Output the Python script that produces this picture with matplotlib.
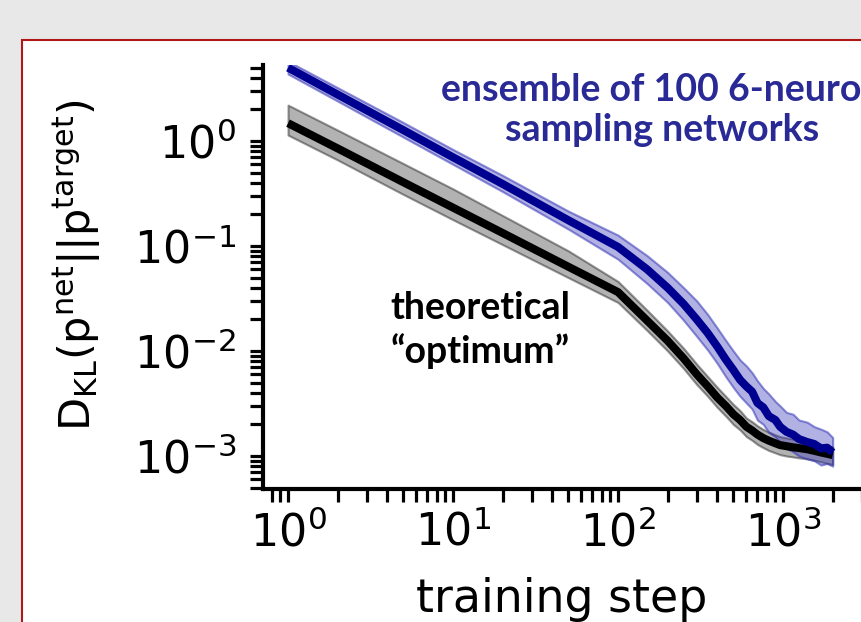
import matplotlib
matplotlib.use("Agg")
import matplotlib.pyplot as plt
from matplotlib.patches import Rectangle
from matplotlib.ticker import LogLocator, NullFormatter

# ---- data ----
steps = [1, 2, 5, 10, 20, 50, 100, 150, 200, 250, 300, 350, 400, 450, 500, 550,
         600, 650, 700, 760, 820, 900, 960, 1050, 1150, 1250, 1400, 1550, 1700, 1850, 2000]

optimum = [1.48, 0.85, 0.405, 0.232, 0.133, 0.0635, 0.0364, 0.0195, 0.0125, 0.0085,
           0.0060, 0.0046, 0.0036, 0.0030, 0.0025, 0.0022, 0.0019, 0.00175, 0.0016,
           0.00148, 0.0014, 0.00132, 0.00127, 0.00124, 0.00121, 0.00119, 0.00116,
           0.00112, 0.00108, 0.00105, 0.00102]
optimum_hi = [2.2, 1.27, 0.61, 0.35, 0.195, 0.090, 0.046, 0.0245, 0.0155, 0.0106,
              0.0075, 0.0057, 0.0045, 0.0037, 0.0031, 0.0027, 0.0023, 0.00212, 0.00194,
              0.00179, 0.00169, 0.00159, 0.00153, 0.00149, 0.00145, 0.00143, 0.00139,
              0.00134, 0.00129, 0.00126, 0.00122]
optimum_lo = [1.14, 0.66, 0.31, 0.178, 0.103, 0.050, 0.029, 0.0157, 0.0100, 0.0068,
              0.0048, 0.0037, 0.0029, 0.0024, 0.0020, 0.00177, 0.00153, 0.00141, 0.00129,
              0.00120, 0.00113, 0.00107, 0.00103, 0.00100, 0.00098, 0.00096, 0.00094,
              0.00091, 0.00088, 0.00085, 0.00083]

ensemble = [5.0, 2.77, 1.27, 0.70, 0.39, 0.176, 0.098, 0.060, 0.040, 0.028, 0.020,
            0.0148, 0.0110, 0.0083, 0.0066, 0.0053, 0.0046, 0.0041, 0.0032, 0.0029,
            0.0024, 0.0022, 0.0019, 0.0017, 0.0016, 0.00145, 0.00136, 0.0013, 0.00118,
            0.0012, 0.00108]
ensemble_hi = [5.75, 3.22, 1.50, 0.83, 0.47, 0.215, 0.127, 0.081, 0.056, 0.040, 0.030,
               0.0222, 0.0165, 0.0126, 0.0100, 0.0082, 0.0072, 0.0062, 0.0052, 0.0044,
               0.0039, 0.0033, 0.0030, 0.0026, 0.0025, 0.0022, 0.0021, 0.0019, 0.0018,
               0.0017, 0.00150]
ensemble_lo = [4.35, 2.40, 1.09, 0.60, 0.33, 0.145, 0.075, 0.044, 0.029, 0.0196, 0.0138,
               0.0102, 0.0076, 0.0057, 0.0045, 0.0037, 0.0032, 0.0028, 0.0022, 0.0020,
               0.00168, 0.00152, 0.00133, 0.00118, 0.00110, 0.00100, 0.00094, 0.00090,
               0.00082, 0.00085, 0.00080]

ensemble_text = "ensemble of 100 6-neuron\nsampling networks"
optimum_text = "theoretical\n\u201coptimum\u201d"
x_label = "training step"
y_label = r"$\mathregular{D_{KL}(p^{net}||p^{target})}$"

# ---- figure ----
W, H = 861, 622
fig = plt.figure(figsize=(W / 100, H / 100), dpi=100)
fig.patch.set_facecolor("#e8e8e8")
panel = Rectangle((22 / W, -0.2), 1.2, 1 - 40 / H + 0.2, transform=fig.transFigure,
                  facecolor="white", edgecolor="#b01818", linewidth=1.5, zorder=0)
fig.add_artist(panel)

left, right, top, bottom = 263, 865, 65, 489
ax = fig.add_axes([left / W, 1 - bottom / H, (right - left) / W, (bottom - top) / H])
ax.set_facecolor("none")

ax.set_xscale("log")
ax.set_yscale("log")

ax.fill_between(steps, optimum_lo, optimum_hi, facecolor=(0, 0, 0, 0.30),
                edgecolor=(0, 0, 0, 0.40), linewidth=1.5, zorder=2)
ax.fill_between(steps, ensemble_lo, ensemble_hi, facecolor=(0.2, 0.2, 0.72, 0.38),
                edgecolor=(0.2, 0.2, 0.72, 0.55), linewidth=1.5, zorder=3)
ax.plot(steps, optimum, color="black", linewidth=5.8, solid_capstyle="butt",
        solid_joinstyle="round", zorder=4)
ax.plot(steps, ensemble, color="#000090", linewidth=5.8, solid_capstyle="butt",
        solid_joinstyle="round", zorder=5)

ax.set_xlim(0.705, 3140)
ax.set_ylim(4.85e-4, 5.3)

for side in ("top", "right"):
    ax.spines[side].set_visible(False)
for side in ("left", "bottom"):
    ax.spines[side].set_linewidth(3)

for axis in (ax.xaxis, ax.yaxis):
    axis.set_major_locator(LogLocator(base=10, numticks=20))
    axis.set_minor_locator(LogLocator(base=10, subs=range(2, 10), numticks=20))
    axis.set_minor_formatter(NullFormatter())

ax.tick_params(which="both", direction="out", length=9.5, width=2.3)
ax.tick_params(which="major", labelsize=32)
ax.tick_params(axis="x", which="major", pad=6)
ax.tick_params(axis="y", which="major", pad=10)

ax.set_xlabel(x_label, fontsize=33)
ax.xaxis.set_label_coords((562 - left) / (right - left), (bottom - 577) / (bottom - top))
ax.xaxis.label.set_va("top")

ax.set_ylabel(y_label, fontsize=31)
ax.yaxis.set_label_coords((78 - left) / (right - left), (bottom - 265) / (bottom - top))
ax.yaxis.label.set_va("center")

fig.text(662 / W, 1 - 110 / H, ensemble_text, ha="center", va="center",
         fontsize=27, fontweight="bold", family="Lato", color="#2a2a96",
         linespacing=1.2)
fig.text(480 / W, 1 - 330 / H, optimum_text, ha="center", va="center",
         fontsize=27, fontweight="bold", family="Lato", color="black",
         linespacing=1.3)

fig.savefig("out.png", dpi=100, facecolor=fig.get_facecolor())
